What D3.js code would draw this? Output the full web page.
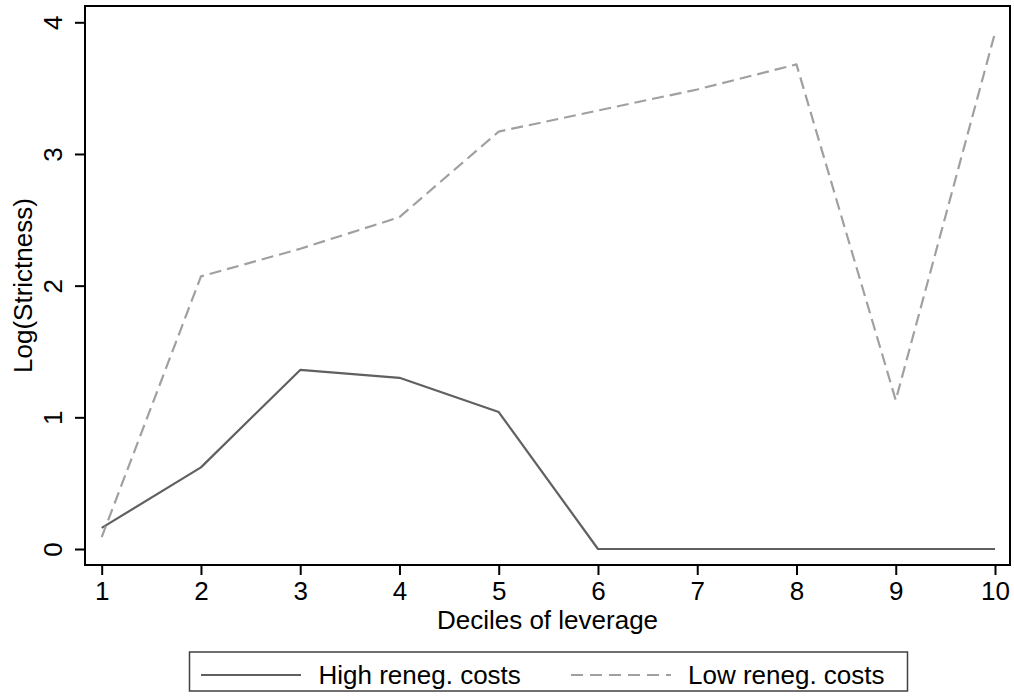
<!DOCTYPE html>
<html>
<head>
<meta charset="utf-8">
<script src="https://cdn.jsdelivr.net/npm/d3@7"></script>
<style>
  html, body { margin: 0; padding: 0; background: #fff; }
  svg { display: block; }
  text { font-family: "Liberation Sans", Arial, sans-serif; fill: #000; }
</style>
</head>
<body>
<svg id="chart" width="1014" height="698"></svg>
<script>
// ---- data ----
const deciles = [1, 2, 3, 4, 5, 6, 7, 8, 9, 10];
const highRenegCosts = [0.16, 0.62, 1.36, 1.30, 1.04, 0, 0, 0, 0, 0];
const lowRenegCosts  = [0.09, 2.07, 2.28, 2.52, 3.17, 3.33, 3.49, 3.68, 1.13, 3.92];
const yTicks = [0, 1, 2, 3, 4];
const xTicks = [1, 2, 3, 4, 5, 6, 7, 8, 9, 10];
const seriesNames = ["High reneg. costs", "Low reneg. costs"];
const xTitle = "Deciles of leverage";
const yTitle = "Log(Strictness)";

// ---- layout ----
const FS = 26;
const frame = { left: 85, top: 6, right: 1010, bottom: 565 };
const svg = d3.select("#chart");

const x = d3.scaleLinear().domain([1, 10]).range([101.7, 995]);
const y = d3.scaleLinear().domain([0, 4]).range([549, 22.3]);

// plot frame
svg.append("rect")
  .attr("x", frame.left).attr("y", frame.top)
  .attr("width", frame.right - frame.left).attr("height", frame.bottom - frame.top)
  .attr("fill", "#fff").attr("stroke", "#000").attr("stroke-width", 2);

// x axis
const xAxis = svg.append("g")
  .attr("transform", `translate(0,${frame.bottom})`)
  .call(d3.axisBottom(x).tickValues(xTicks).tickSize(10).tickFormat(d3.format("d")));
xAxis.select(".domain").remove();
xAxis.selectAll(".tick line").attr("stroke", "#000").attr("stroke-width", 2);
xAxis.selectAll(".tick text")
  .attr("font-size", FS).attr("fill", "#000")
  .attr("font-family", "Liberation Sans, Arial, sans-serif")
  .attr("dy", null).attr("y", 34.5);

// y axis
const yAxis = svg.append("g")
  .attr("transform", `translate(${frame.left},0)`)
  .call(d3.axisLeft(y).tickValues(yTicks).tickSize(10).tickFormat(d3.format("d")));
yAxis.select(".domain").remove();
yAxis.selectAll(".tick line").attr("stroke", "#000").attr("stroke-width", 2);
yAxis.selectAll(".tick text")
  .attr("font-size", FS).attr("fill", "#000")
  .attr("font-family", "Liberation Sans, Arial, sans-serif")
  .attr("x", null).attr("dy", null)
  .attr("text-anchor", "middle")
  .attr("transform", "translate(-23.3,0) rotate(-90)");

// axis titles
svg.append("text")
  .attr("x", (frame.left + frame.right) / 2).attr("y", 628.5)
  .attr("text-anchor", "middle").attr("font-size", FS)
  .text(xTitle);
svg.append("text")
  .attr("transform", `translate(32,${(frame.top + frame.bottom) / 2}) rotate(-90)`)
  .attr("text-anchor", "middle").attr("font-size", FS)
  .text(yTitle);

// lines
const line = d3.line().x((d, i) => x(deciles[i])).y(d => y(d));
svg.append("path")
  .datum(highRenegCosts)
  .attr("d", line)
  .attr("fill", "none").attr("stroke", "#606060").attr("stroke-width", 2.2)
  .attr("stroke-linejoin", "round");
svg.append("path")
  .datum(lowRenegCosts)
  .attr("d", line)
  .attr("fill", "none").attr("stroke", "#a0a0a0").attr("stroke-width", 2.2)
  .attr("stroke-dasharray", "12,6")
  .attr("stroke-linejoin", "round");

// legend
const leg = svg.append("g");
leg.append("rect")
  .attr("x", 189.5).attr("y", 652).attr("width", 718).attr("height", 39)
  .attr("fill", "#fff").attr("stroke", "#404040").attr("stroke-width", 1.5);
const legItems = [
  { name: seriesNames[0], x0: 201, tx: 318.5, stroke: "#606060", dash: null },
  { name: seriesNames[1], x0: 571, tx: 688, stroke: "#a0a0a0", dash: "12,7" }
];
legItems.forEach(it => {
  leg.append("line")
    .attr("x1", it.x0).attr("x2", it.x0 + 100)
    .attr("y1", 675).attr("y2", 675)
    .attr("stroke", it.stroke).attr("stroke-width", 2.2)
    .attr("stroke-dasharray", it.dash);
  leg.append("text")
    .attr("x", it.tx).attr("y", 684)
    .attr("font-size", FS)
    .text(it.name);
});
</script>
</body>
</html>
